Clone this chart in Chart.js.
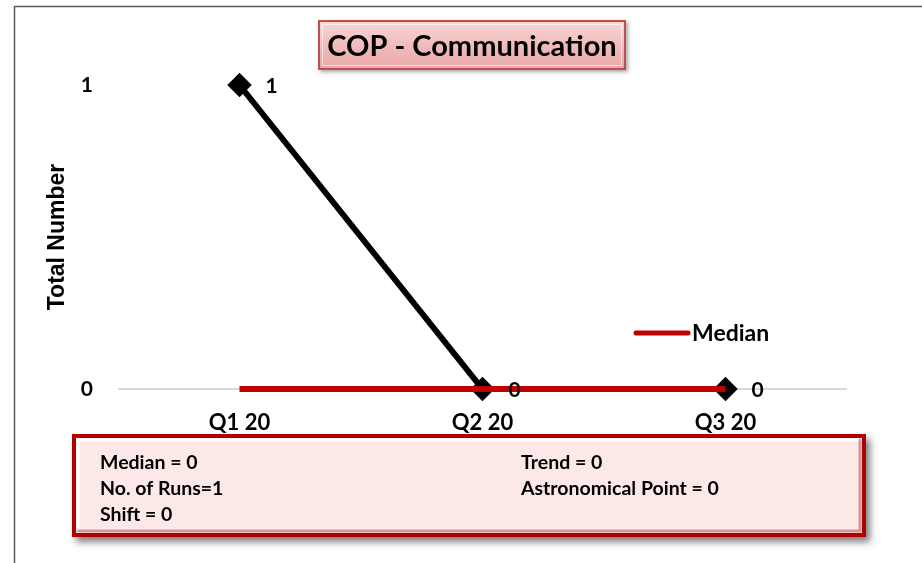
<!DOCTYPE html>
<html><head><meta charset="utf-8">
<script src="https://cdn.jsdelivr.net/npm/chart.js@4"></script>
<style>html,body{margin:0;padding:0;background:#fff;}#wrap{position:relative;width:922px;height:563px;}</style>
</head><body><div id="wrap"><canvas id="c" width="922" height="563"></canvas></div>
<script>
const categories = ["Q1 20", "Q2 20", "Q3 20"];
const totalValues = [1, 0, 0];
const medianValues = [0, 0, 0];
const yTickValues = [0, 1];
const chartTitle = "COP - Communication";
const yAxisTitle = "Total Number";
const statsLeft = ["Median = 0", "No. of Runs=1", "Shift = 0"];
const statsRight = ["Trend = 0", "Astronomical Point = 0"];

const FONT = "Lato, 'Open Sans', sans-serif";

const decor = {
  id: 'decor',
  beforeDraw(chart) {
    const ctx = chart.ctx;
    ctx.save();
    ctx.fillStyle = '#fff';
    ctx.fillRect(0, 0, chart.width, chart.height);
    ctx.strokeStyle = '#595959';
    ctx.lineWidth = 1.5;
    ctx.beginPath();
    ctx.moveTo(14.5, chart.height + 2);
    ctx.lineTo(14.5, 6.5);
    ctx.lineTo(chart.width + 2, 6.5);
    ctx.stroke();
    ctx.fillStyle = '#000';
    ctx.font = "bold 23px 'Liberation Sans', Arial, sans-serif";
    ctx.textAlign = 'center';
    ctx.textBaseline = 'middle';
    ctx.translate(58, 237);
    ctx.rotate(-Math.PI / 2);
    ctx.fillText(yAxisTitle, 0, 0);
    ctx.restore();
  },
  afterDraw(chart) {
    const ctx = chart.ctx;
    ctx.save();
    const meta = chart.getDatasetMeta(1);
    ctx.font = "bold 21px " + FONT;
    ctx.fillStyle = '#000';
    ctx.textAlign = 'center';
    ctx.textBaseline = 'middle';
    meta.data.forEach((pt, i) => {
      ctx.fillText(String(totalValues[i]), pt.x + 32, pt.y + 1);
    });
    const lg = chart.data.datasets[0];
    ctx.strokeStyle = lg.borderColor;
    ctx.lineWidth = 5;
    ctx.lineCap = 'round';
    ctx.beginPath();
    ctx.moveTo(636, 333);
    ctx.lineTo(688, 333);
    ctx.stroke();
    ctx.textAlign = 'left';
    ctx.font = "bold 23px " + FONT;
    ctx.fillText(lg.label, 692, 334);

    const tx = 318, ty = 20, tw = 308, th = 50;
    ctx.shadowColor = 'rgba(0,0,0,0.35)';
    ctx.shadowBlur = 4; ctx.shadowOffsetX = 2; ctx.shadowOffsetY = 2;
    let g = ctx.createLinearGradient(0, ty, 0, ty + th);
    g.addColorStop(0, '#f9d9d9'); g.addColorStop(0.5, '#f0bcbc'); g.addColorStop(1, '#e9a6a6');
    ctx.fillStyle = g;
    ctx.fillRect(tx, ty, tw, th);
    ctx.shadowColor = 'transparent';
    ctx.strokeStyle = '#c0504d';
    ctx.lineWidth = 2;
    ctx.strokeRect(tx + 1, ty + 1, tw - 2, th - 2);
    ctx.strokeStyle = 'rgba(255,255,255,0.6)';
    ctx.lineWidth = 1;
    ctx.strokeRect(tx + 4.5, ty + 4.5, tw - 9, th - 9);
    ctx.fillStyle = '#000';
    ctx.font = "bold 29px " + FONT;
    ctx.textAlign = 'center';
    ctx.fillText(chartTitle, tx + tw / 2, ty + th / 2 + 2);

    const bx = 72, by = 434, bw = 794, bh = 103;
    ctx.shadowColor = 'rgba(0,0,0,0.5)';
    ctx.shadowBlur = 7; ctx.shadowOffsetX = 4; ctx.shadowOffsetY = 5;
    ctx.fillStyle = '#fde8e8';
    ctx.fillRect(bx, by, bw, bh);
    ctx.shadowColor = 'transparent';
    ctx.strokeStyle = '#b00000';
    ctx.lineWidth = 4;
    ctx.strokeRect(bx + 2, by + 2, bw - 4, bh - 4);
    ctx.strokeStyle = 'rgba(255,255,255,0.9)';
    ctx.lineWidth = 3;
    ctx.beginPath(); ctx.moveTo(bx + 6, by + bh - 6); ctx.lineTo(bx + 6, by + 6); ctx.lineTo(bx + bw - 6, by + 6); ctx.stroke();
    ctx.strokeStyle = 'rgba(120,0,0,0.35)';
    ctx.beginPath(); ctx.moveTo(bx + bw - 6, by + 6); ctx.lineTo(bx + bw - 6, by + bh - 6); ctx.lineTo(bx + 6, by + bh - 6); ctx.stroke();
    ctx.fillStyle = '#000';
    ctx.font = "bold 19.5px " + FONT;
    ctx.textAlign = 'left';
    ctx.textBaseline = 'middle';
    statsLeft.forEach((t, i) => ctx.fillText(t, 100, 463 + i * 26));
    statsRight.forEach((t, i) => ctx.fillText(t, 521, 463 + i * 26));
    ctx.restore();
  }
};

new Chart(document.getElementById('c'), {
  type: 'line',
  data: {
    labels: categories,
    datasets: [
      {
        label: 'Median',
        data: medianValues,
        borderColor: '#c00000',
        borderWidth: 6,
        pointRadius: 0,
        tension: 0,
        clip: false,
        order: 0
      },
      {
        label: 'Total',
        data: totalValues,
        borderColor: '#000',
        backgroundColor: '#000',
        borderWidth: 6,
        pointStyle: 'rectRot',
        pointRadius: 8,
        pointHoverRadius: 8,
        pointBackgroundColor: '#000',
        pointBorderColor: '#000',
        tension: 0,
        clip: false,
        order: 1
      }
    ]
  },
  options: {
    responsive: false,
    animation: false,
    events: [],
    layout: { padding: { left: 0, right: 75, top: 85, bottom: 0 } },
    plugins: { legend: { display: false }, tooltip: { enabled: false }, title: { display: false } },
    scales: {
      x: {
        offset: true,
        grid: { display: false, drawTicks: false },
        border: { display: false },
        ticks: { color: '#000', font: { family: FONT, size: 22, weight: 'bold' }, padding: 21, maxRotation: 0 },
        afterFit(s) { s.height = 174; }
      },
      y: {
        min: 0, max: 1,
        afterBuildTicks(s) { s.ticks = yTickValues.map(v => ({ value: v })); },
        grid: {
          drawTicks: false,
          color: (c) => (c.tick && c.tick.value === 0) ? '#d9d9d9' : 'rgba(0,0,0,0)',
          lineWidth: 2
        },
        border: { display: false },
        ticks: { color: '#000', font: { family: FONT, size: 21, weight: 'bold' }, padding: 25 },
        afterFit(s) { s.width = 118; }
      }
    }
  },
  plugins: [decor]
});
</script>
</body></html>
